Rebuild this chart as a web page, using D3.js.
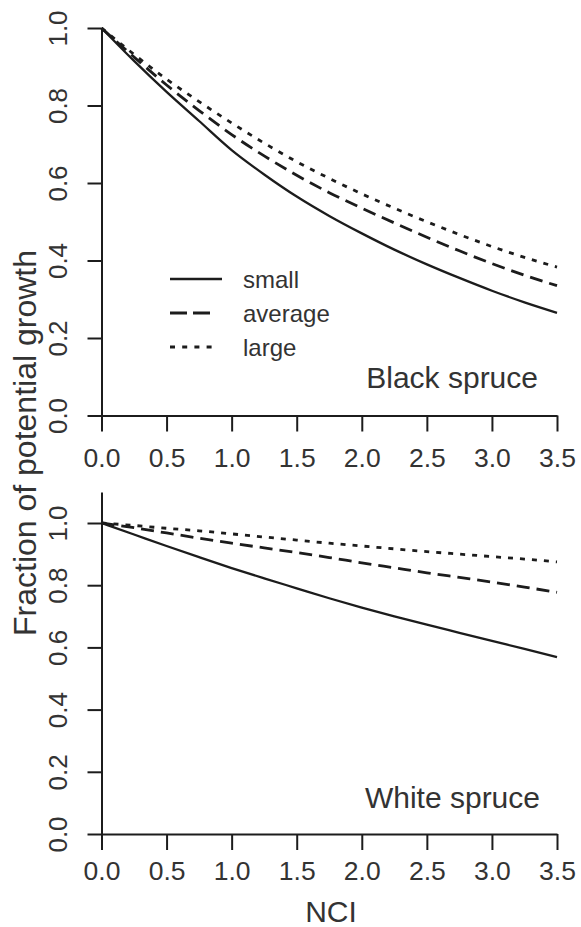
<!DOCTYPE html>
<html>
<head>
<meta charset="utf-8">
<script src="https://cdn.jsdelivr.net/npm/d3@7/dist/d3.min.js"></script>
<style>
  html, body { margin: 0; padding: 0; background: #fff; }
  svg { display: block; }
  text { font-family: "Liberation Sans", Arial, sans-serif; fill: #333; }
</style>
</head>
<body>
<script>
// ---- data ----
const nci = [0, 0.25, 0.5, 0.75, 1.0, 1.25, 1.5, 1.75, 2.0, 2.25, 2.5, 2.75, 3.0, 3.25, 3.5];
const blackSmall   = [1.0, 0.915, 0.835, 0.76, 0.685, 0.622, 0.565, 0.515, 0.47, 0.428, 0.39, 0.355, 0.322, 0.292, 0.265];
const blackAverage = [1.0, 0.925, 0.853, 0.787, 0.725, 0.67, 0.62, 0.575, 0.535, 0.497, 0.46, 0.425, 0.392, 0.362, 0.335];
const blackLarge   = [1.0, 0.932, 0.868, 0.81, 0.755, 0.703, 0.655, 0.612, 0.572, 0.535, 0.50, 0.467, 0.436, 0.408, 0.383];
const whiteSmall   = [1.0, 0.963, 0.926, 0.89, 0.855, 0.822, 0.79, 0.758, 0.728, 0.70, 0.673, 0.647, 0.621, 0.595, 0.569];
const whiteAverage = [1.0, 0.985, 0.968, 0.951, 0.935, 0.92, 0.905, 0.889, 0.872, 0.856, 0.84, 0.825, 0.81, 0.794, 0.777];
const whiteLarge   = [1.0, 0.992, 0.983, 0.975, 0.965, 0.955, 0.945, 0.935, 0.926, 0.917, 0.908, 0.90, 0.892, 0.884, 0.875];
const sizeClasses = ["small", "average", "large"];
const xTicks = [0, 0.5, 1.0, 1.5, 2.0, 2.5, 3.0, 3.5];
const yTicks = [0, 0.2, 0.4, 0.6, 0.8, 1.0];
const panelTitles = ["Black spruce", "White spruce"];
const xTitle = "NCI";
const yTitle = "Fraction of potential growth";

// ---- layout ----
const W = 581, H = 927;
const svg = d3.select("body").append("svg").attr("width", W).attr("height", H);
const dashes = { small: null, average: "13,7", large: "5,7" };
const legendDashes = { small: null, average: "17,6", large: "5,7.2" };
const widths = { small: 2.3, average: 2.8, large: 2.8 };
const ink = "#1c1c1c";

const panels = [
  { title: panelTitles[0], series: [blackSmall, blackAverage, blackLarge],
    yDomain: [0, 1], yRange: [415.5, 28], legend: true, titleY: 388, titleX: 538, labelY: 467 },
  { title: panelTitles[1], series: [whiteSmall, whiteAverage, whiteLarge],
    yDomain: [0, 1.1], yRange: [834, 834 - 1.1 * 311], legend: false, titleY: 808, titleX: 540, labelY: 880 }
];

const x = d3.scaleLinear().domain([0, 3.5]).range([101.5, 557]);

panels.forEach((p) => {
  const y = d3.scaleLinear().domain(p.yDomain).range(p.yRange);
  const g = svg.append("g");

  // y axis
  const ya = g.append("g").attr("transform", `translate(${x(0)},0)`)
    .call(d3.axisLeft(y).tickValues(yTicks).tickSize(14).tickSizeOuter(0).tickFormat(d3.format(".1f")));
  ya.selectAll("path.domain").attr("stroke", ink).attr("stroke-width", 2);
  ya.selectAll(".tick line").attr("stroke", ink).attr("stroke-width", 2);
  ya.selectAll(".tick text")
    .attr("x", 0).attr("y", 0).attr("dy", null)
    .attr("transform", "translate(-35,0) rotate(-90)")
    .attr("text-anchor", "middle")
    .style("font-size", "26px");

  // x axis
  const xa = g.append("g").attr("transform", `translate(0,${y(0)})`)
    .call(d3.axisBottom(x).tickValues(xTicks).tickSize(16).tickSizeOuter(0).tickFormat(d3.format(".1f")));
  xa.selectAll("path.domain").attr("stroke", ink).attr("stroke-width", 2);
  xa.selectAll(".tick line").attr("stroke", ink).attr("stroke-width", 2);
  xa.selectAll(".tick text").attr("y", 0).attr("dy", null)
    .attr("transform", `translate(0,${p.labelY - y(0)})`)
    .style("font-size", "26.5px");
  ya.selectAll("text").attr("font-family", null).attr("fill", null);
  xa.selectAll("text").attr("font-family", null).attr("fill", null);

  // lines
  const line = d3.line().x((d, i) => x(nci[i])).y(d => y(d)).curve(d3.curveMonotoneX);
  p.series.forEach((s, si) => {
    const k = sizeClasses[si];
    g.append("path").datum(s).attr("d", line)
      .attr("fill", "none").attr("stroke", ink)
      .attr("stroke-width", widths[k])
      .attr("stroke-dasharray", dashes[k]);
  });

  // panel title
  g.append("text").attr("x", p.titleX).attr("y", p.titleY).attr("text-anchor", "end")
    .style("font-size", "30px").text(p.title);

  // legend
  if (p.legend) {
    const ly = [279, 313, 347];
    const lx2 = { small: 222, average: 210, large: 212 };
    sizeClasses.forEach((k, i) => {
      g.append("line").attr("x1", 170).attr("x2", lx2[k])
        .attr("y1", ly[i]).attr("y2", ly[i])
        .attr("stroke", ink).attr("stroke-width", widths[k])
        .attr("stroke-dasharray", legendDashes[k]);
      g.append("text").attr("x", 243).attr("y", ly[i] + 9)
        .style("font-size", "24px").text(k);
    });
  }
});

// axis titles
svg.append("text").attr("transform", "translate(36,443) rotate(-90)")
  .attr("text-anchor", "middle").style("font-size", "32px").text(yTitle);
svg.append("text").attr("x", 331).attr("y", 922).attr("text-anchor", "middle")
  .style("font-size", "30px").text(xTitle);
</script>
</body>
</html>
